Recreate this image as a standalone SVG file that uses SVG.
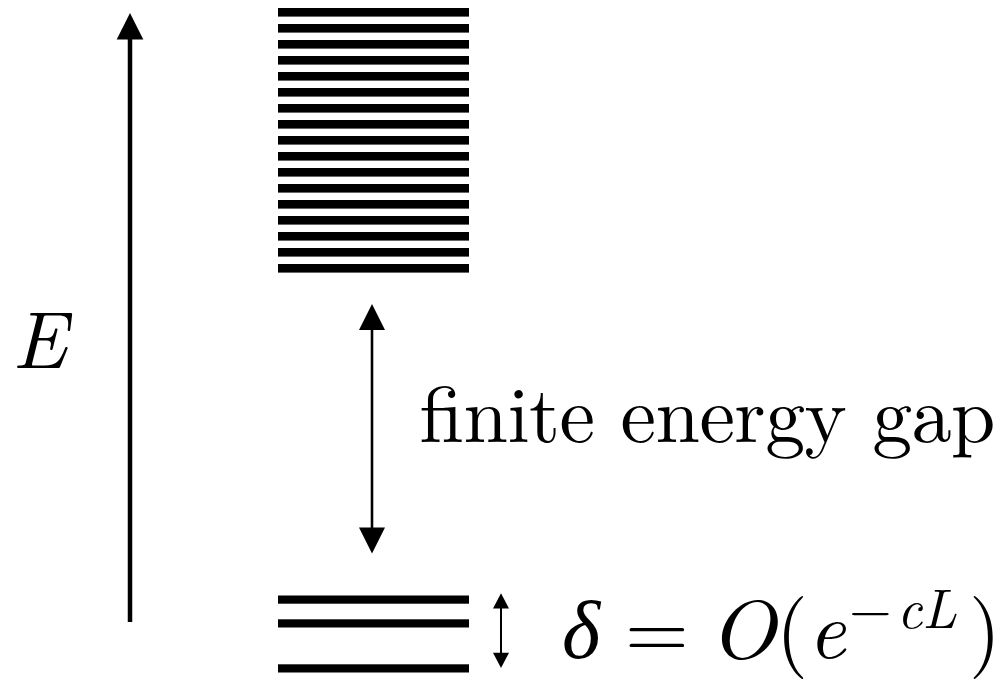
<svg xmlns="http://www.w3.org/2000/svg" width="1004" height="680" viewBox="0 0 1004 680">
<style>
.bar{fill:#000}
.ln{stroke:#000;fill:none}
.hd{fill:#000}
text{fill:#000}
.it{font-style:italic}
</style>
<rect width="1004" height="680" fill="#fff"/>
<g id="continuum">
<rect class="bar" x="278" y="8" width="191" height="8.6"/>
<rect class="bar" x="278" y="24" width="191" height="8.6"/>
<rect class="bar" x="278" y="40" width="191" height="8.6"/>
<rect class="bar" x="278" y="56" width="191" height="8.6"/>
<rect class="bar" x="278" y="72" width="191" height="8.6"/>
<rect class="bar" x="278" y="88" width="191" height="8.6"/>
<rect class="bar" x="278" y="104" width="191" height="8.6"/>
<rect class="bar" x="278" y="120" width="191" height="8.6"/>
<rect class="bar" x="278" y="136" width="191" height="8.6"/>
<rect class="bar" x="278" y="152" width="191" height="8.6"/>
<rect class="bar" x="278" y="168" width="191" height="8.6"/>
<rect class="bar" x="278" y="184" width="191" height="8.6"/>
<rect class="bar" x="278" y="200" width="191" height="8.6"/>
<rect class="bar" x="278" y="216" width="191" height="8.6"/>
<rect class="bar" x="278" y="232" width="191" height="8.6"/>
<rect class="bar" x="278" y="248" width="191" height="8.6"/>
<rect class="bar" x="278" y="264" width="191" height="8.6"/>
</g>
<g id="ground-states">
<rect class="bar" x="278" y="595.5" width="191" height="8.2"/>
<rect class="bar" x="278" y="619.3" width="191" height="8.2"/>
<rect class="bar" x="278" y="664.3" width="191" height="8.2"/>
</g>
<g id="connectors">
<line class="ln" x1="130" y1="622" x2="130" y2="38" stroke-width="4.5"/>
<polygon class="hd" points="130,13 116.7,39.5 143.3,39.5"/>
<line class="ln" x1="372" y1="328" x2="372" y2="530" stroke-width="2.6"/>
<polygon class="hd" points="372,304 359,330 385,330"/>
<polygon class="hd" points="372,553.5 359,527.5 385,527.5"/>
<line class="ln" x1="501" y1="606" x2="501" y2="655" stroke-width="2"/>
<polygon class="hd" points="501,593.3 493,608.5 509,608.5"/>
<polygon class="hd" points="501,668 493,652.7 509,652.7"/>
</g>
<g id="label-E" font-family="Latin Modern Roman, CMU Serif, Liberation Serif, serif">
<text class="it" x="12" y="367.5" font-size="81">E</text>
</g>
<g id="label-gap" font-family="Latin Modern Roman, CMU Serif, Liberation Serif, serif">
<text x="419" y="442" font-size="80" textLength="576" lengthAdjust="spacing">finite energy gap</text>
</g>
<g id="label-delta" font-family="Latin Modern Roman, CMU Serif, Liberation Serif, serif">
<text class="it" x="562" y="658" font-size="82">δ</text>
<text x="625" y="658" font-size="82">=</text>
<text class="it" x="709" y="658" font-size="82" textLength="67" lengthAdjust="spacingAndGlyphs">O</text>
<text x="776" y="658" font-size="82">(</text>
<text class="it" x="808" y="658" font-size="82">e</text>
<text x="849" y="628" font-size="55">−</text>
<text class="it" x="897" y="628" font-size="55">cL</text>
<text x="969" y="658" font-size="82">)</text>
</g>
</svg>
